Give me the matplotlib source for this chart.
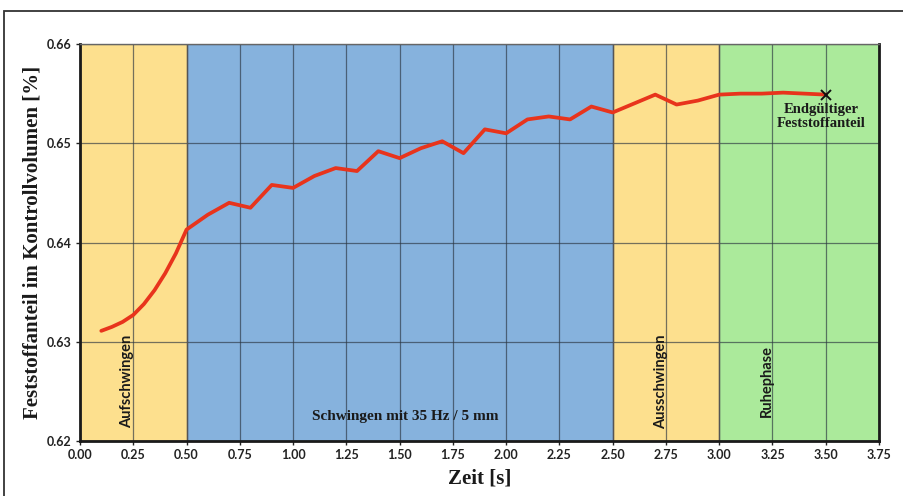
import matplotlib.pyplot as plt
from matplotlib.patches import Rectangle

# Feststoffanteil im Kontrollvolumen über der Zeit
zeit = [0.10, 0.15, 0.20, 0.25, 0.30, 0.35, 0.40, 0.45, 0.50, 0.60, 0.70, 0.80,
        0.90, 1.00, 1.10, 1.20, 1.30, 1.40, 1.50, 1.60, 1.70, 1.80, 1.90, 2.00,
        2.10, 2.20, 2.30, 2.40, 2.50, 2.60, 2.70, 2.80, 2.90, 3.00, 3.10, 3.20,
        3.30, 3.40, 3.50]
anteil = [0.6311, 0.6315, 0.6320, 0.6327, 0.6338, 0.6352, 0.6369, 0.6389, 0.6413,
          0.6428, 0.6440, 0.6435, 0.6458, 0.6455, 0.6467, 0.6475, 0.6472, 0.6492,
          0.6485, 0.6495, 0.6502, 0.6490, 0.6514, 0.6510, 0.6524, 0.6527, 0.6524,
          0.6537, 0.6531, 0.6540, 0.6549, 0.6539, 0.6543, 0.6549, 0.6550, 0.6550,
          0.6551, 0.6550, 0.6549]

# Phasen: (Beginn, Ende, Farbe, Beschriftung)
phasen = [
    (0.0, 0.5, '#fde08e', 'Aufschwingen'),
    (0.5, 2.5, '#86b2dd', 'Schwingen mit 35 Hz / 5 mm'),
    (2.5, 3.0, '#fde08e', 'Ausschwingen'),
    (3.0, 3.75, '#abea9b', 'Ruhephase'),
]

xticks = [0.0, 0.25, 0.5, 0.75, 1.0, 1.25, 1.5, 1.75, 2.0, 2.25, 2.5, 2.75,
          3.0, 3.25, 3.5, 3.75]
yticks = [0.62, 0.63, 0.64, 0.65, 0.66]

serif = ['Liberation Serif', 'DejaVu Serif']
sans = ['Lato', 'DejaVu Sans']

fig = plt.figure(figsize=(9.04, 4.96), dpi=100)
ax = fig.add_axes([80 / 904, 1 - 441 / 496, 799 / 904, 397 / 496])

for start, end, farbe, _ in phasen:
    ax.axvspan(start, end, color=farbe, zorder=0, lw=0)
for start, _, _, _ in phasen[1:]:
    ax.axvline(start, color='#555555', lw=1.0, zorder=1)

ax.set_xlim(0, 3.75)
ax.set_ylim(0.62, 0.66)
ax.set_xticks(xticks)
ax.set_yticks(yticks)
ax.set_xticklabels([f'{t:.2f}' for t in xticks], fontfamily=sans,
                   fontweight='bold', fontsize=9, color='#222222')
ax.set_yticklabels([f'{t:.2f}' for t in yticks], fontfamily=sans,
                   fontweight='bold', fontsize=9, color='#222222')
ax.tick_params(length=3, width=1, pad=3, color='#222222')
ax.grid(True, color='#2b3540', lw=0.9, alpha=0.65, zorder=1)
ax.set_axisbelow(True)

for side in ['left', 'bottom', 'right']:
    ax.spines[side].set_linewidth(2.0)
    ax.spines[side].set_color('#1a1a1a')
ax.spines['top'].set_linewidth(1.0)
ax.spines['top'].set_color('#666666')

ax.plot(zeit, anteil, color='#e8341c', lw=2.7, zorder=3,
        solid_joinstyle='round', solid_capstyle='round')
ax.plot(zeit[-1], anteil[-1], marker='x', color='#111111', ms=7, mew=1.4, zorder=4)
ax.text(3.48, 0.6541, 'Endgültiger\nFeststoffanteil', ha='center', va='top',
        fontfamily=serif, fontweight='bold', fontsize=10.5, color='#1a1a1a',
        linespacing=1.15, zorder=5)

# Beschriftung der Phasen
ax.text(0.223, 0.626, phasen[0][3], rotation=90, ha='center', va='center',
        fontfamily=sans, fontweight='bold', fontsize=10.5, color='#1a1a1a', zorder=5)
ax.text(1.525, 0.6225, phasen[1][3], ha='center', va='center',
        fontfamily=serif, fontweight='bold', fontsize=11, color='#1a1a1a', zorder=5)
ax.text(2.727, 0.626, phasen[2][3], rotation=90, ha='center', va='center',
        fontfamily=sans, fontweight='bold', fontsize=10.5, color='#1a1a1a', zorder=5)
ax.text(3.222, 0.626, phasen[3][3], rotation=90, ha='center', va='center',
        fontfamily=sans, fontweight='bold', fontsize=10.5, color='#1a1a1a', zorder=5)

ax.set_xlabel('Zeit [s]', fontfamily=serif, fontweight='bold', fontsize=15,
              color='#1a1a1a', labelpad=5)
ax.set_ylabel('Feststoffanteil im Kontrollvolumen [%]', fontfamily=serif,
              fontweight='bold', fontsize=15, color='#1a1a1a', labelpad=3)

# Rahmen um die Grafik
fig.patches.append(Rectangle((4 / 904, -0.1), 1.2, 1 - 11 / 496 + 0.1,
                             transform=fig.transFigure, fill=False,
                             edgecolor='#333333', lw=1.3))

fig.savefig('out.png', dpi=100)
